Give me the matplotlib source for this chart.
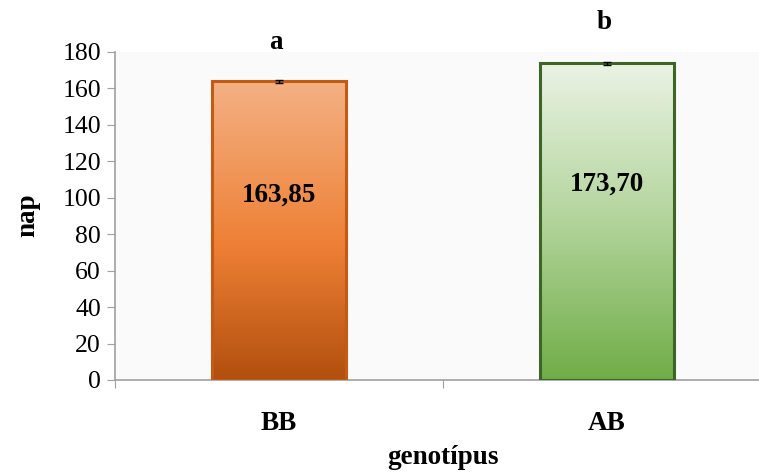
import matplotlib
matplotlib.use("Agg")
import matplotlib.pyplot as plt
import numpy as np
from matplotlib.colors import LinearSegmentedColormap

categories = ["BB", "AB"]
values = [163.85, 173.70]
errors = [0.6, 0.6]
value_labels = ["163,85", "173,70"]
letters = ["a", "b"]
y_ticks = [0, 20, 40, 60, 80, 100, 120, 140, 160, 180]

plt.rcParams['font.family'] = ['Liberation Serif', 'DejaVu Serif']

W, H = 759, 472
fig = plt.figure(figsize=(W / 100, H / 100), dpi=100)
ax_left, ax_right = 115, 771
ax_top, ax_bot = 52, 380
ax = fig.add_axes([ax_left / W, 1 - ax_bot / H, (ax_right - ax_left) / W, (ax_bot - ax_top) / H])
ax.set_facecolor("#FAFAFA")

x = np.arange(len(categories))
edge_colors = ["#C55A15", "#3D6526"]
bars = ax.bar(x, values, width=0.41, color="none", edgecolor=edge_colors, linewidth=2.2, zorder=3)

cmaps = [
    LinearSegmentedColormap.from_list("o", [(0, "#B24F0E"), (0.45, "#EE8035"), (1, "#F4B184")]),
    LinearSegmentedColormap.from_list("g", [(0, "#70AD47"), (0.5, "#B2D49B"), (1, "#EAF3E4")]),
]
grad = np.linspace(0, 1, 256).reshape(-1, 1)
for b, cm in zip(bars, cmaps):
    bx, bw, bh = b.get_x(), b.get_width(), b.get_height()
    im = ax.imshow(grad, cmap=cm, origin="lower", aspect="auto",
                   extent=[bx, bx + bw, 0, bh], zorder=2)
    im.set_clip_path(b)

ax.errorbar(x, values, yerr=errors, fmt="none", ecolor="black", elinewidth=1, capsize=3, zorder=4)

for xi, v, lab, let in zip(x, values, value_labels, letters):
    ax.text(xi, v * 0.62, lab, ha="center", va="center", fontsize=19.5, fontweight="bold", zorder=5)
    ax.text(xi - 0.01, v + 21.5 + (v - 163.85) * 0.12, let, ha="center", va="center", fontsize=19.5,
            fontweight="bold", clip_on=False)

ax.set_xlim(-0.5, 1.5)
ax.set_ylim(0, 180)
ax.set_yticks(y_ticks)
ax.set_xticks([-0.5, 0.5, 1.5])
ax.set_xticklabels([])
ax.set_xticks(x, minor=True)
ax.set_xticklabels(categories, minor=True, fontsize=19.5, fontweight="bold")
ax.tick_params(axis="x", which="minor", length=0, pad=22)
ax.tick_params(axis="x", which="major", length=6, color="#A0A0A0", direction="out")
ax.tick_params(axis="y", length=6, color="#A0A0A0", direction="out", labelsize=18.5, pad=4)

for s in ["top", "right"]:
    ax.spines[s].set_visible(False)
for s in ["left", "bottom"]:
    ax.spines[s].set_color("#A0A0A0")
    ax.spines[s].set_linewidth(1.2)

ax.set_xlabel("genotípus", fontsize=19.5, fontweight="bold")
fig.text(28 / W, 1 - 215 / H, "nap", rotation=90, ha="center", va="center", fontsize=19.5, fontweight="bold")
ax.xaxis.set_label_coords((443 - ax_left) / (ax_right - ax_left), -(458 - ax_bot) / (ax_bot - ax_top))
ax.xaxis.label.set_va("center")

fig.savefig("out.png", dpi=100)
